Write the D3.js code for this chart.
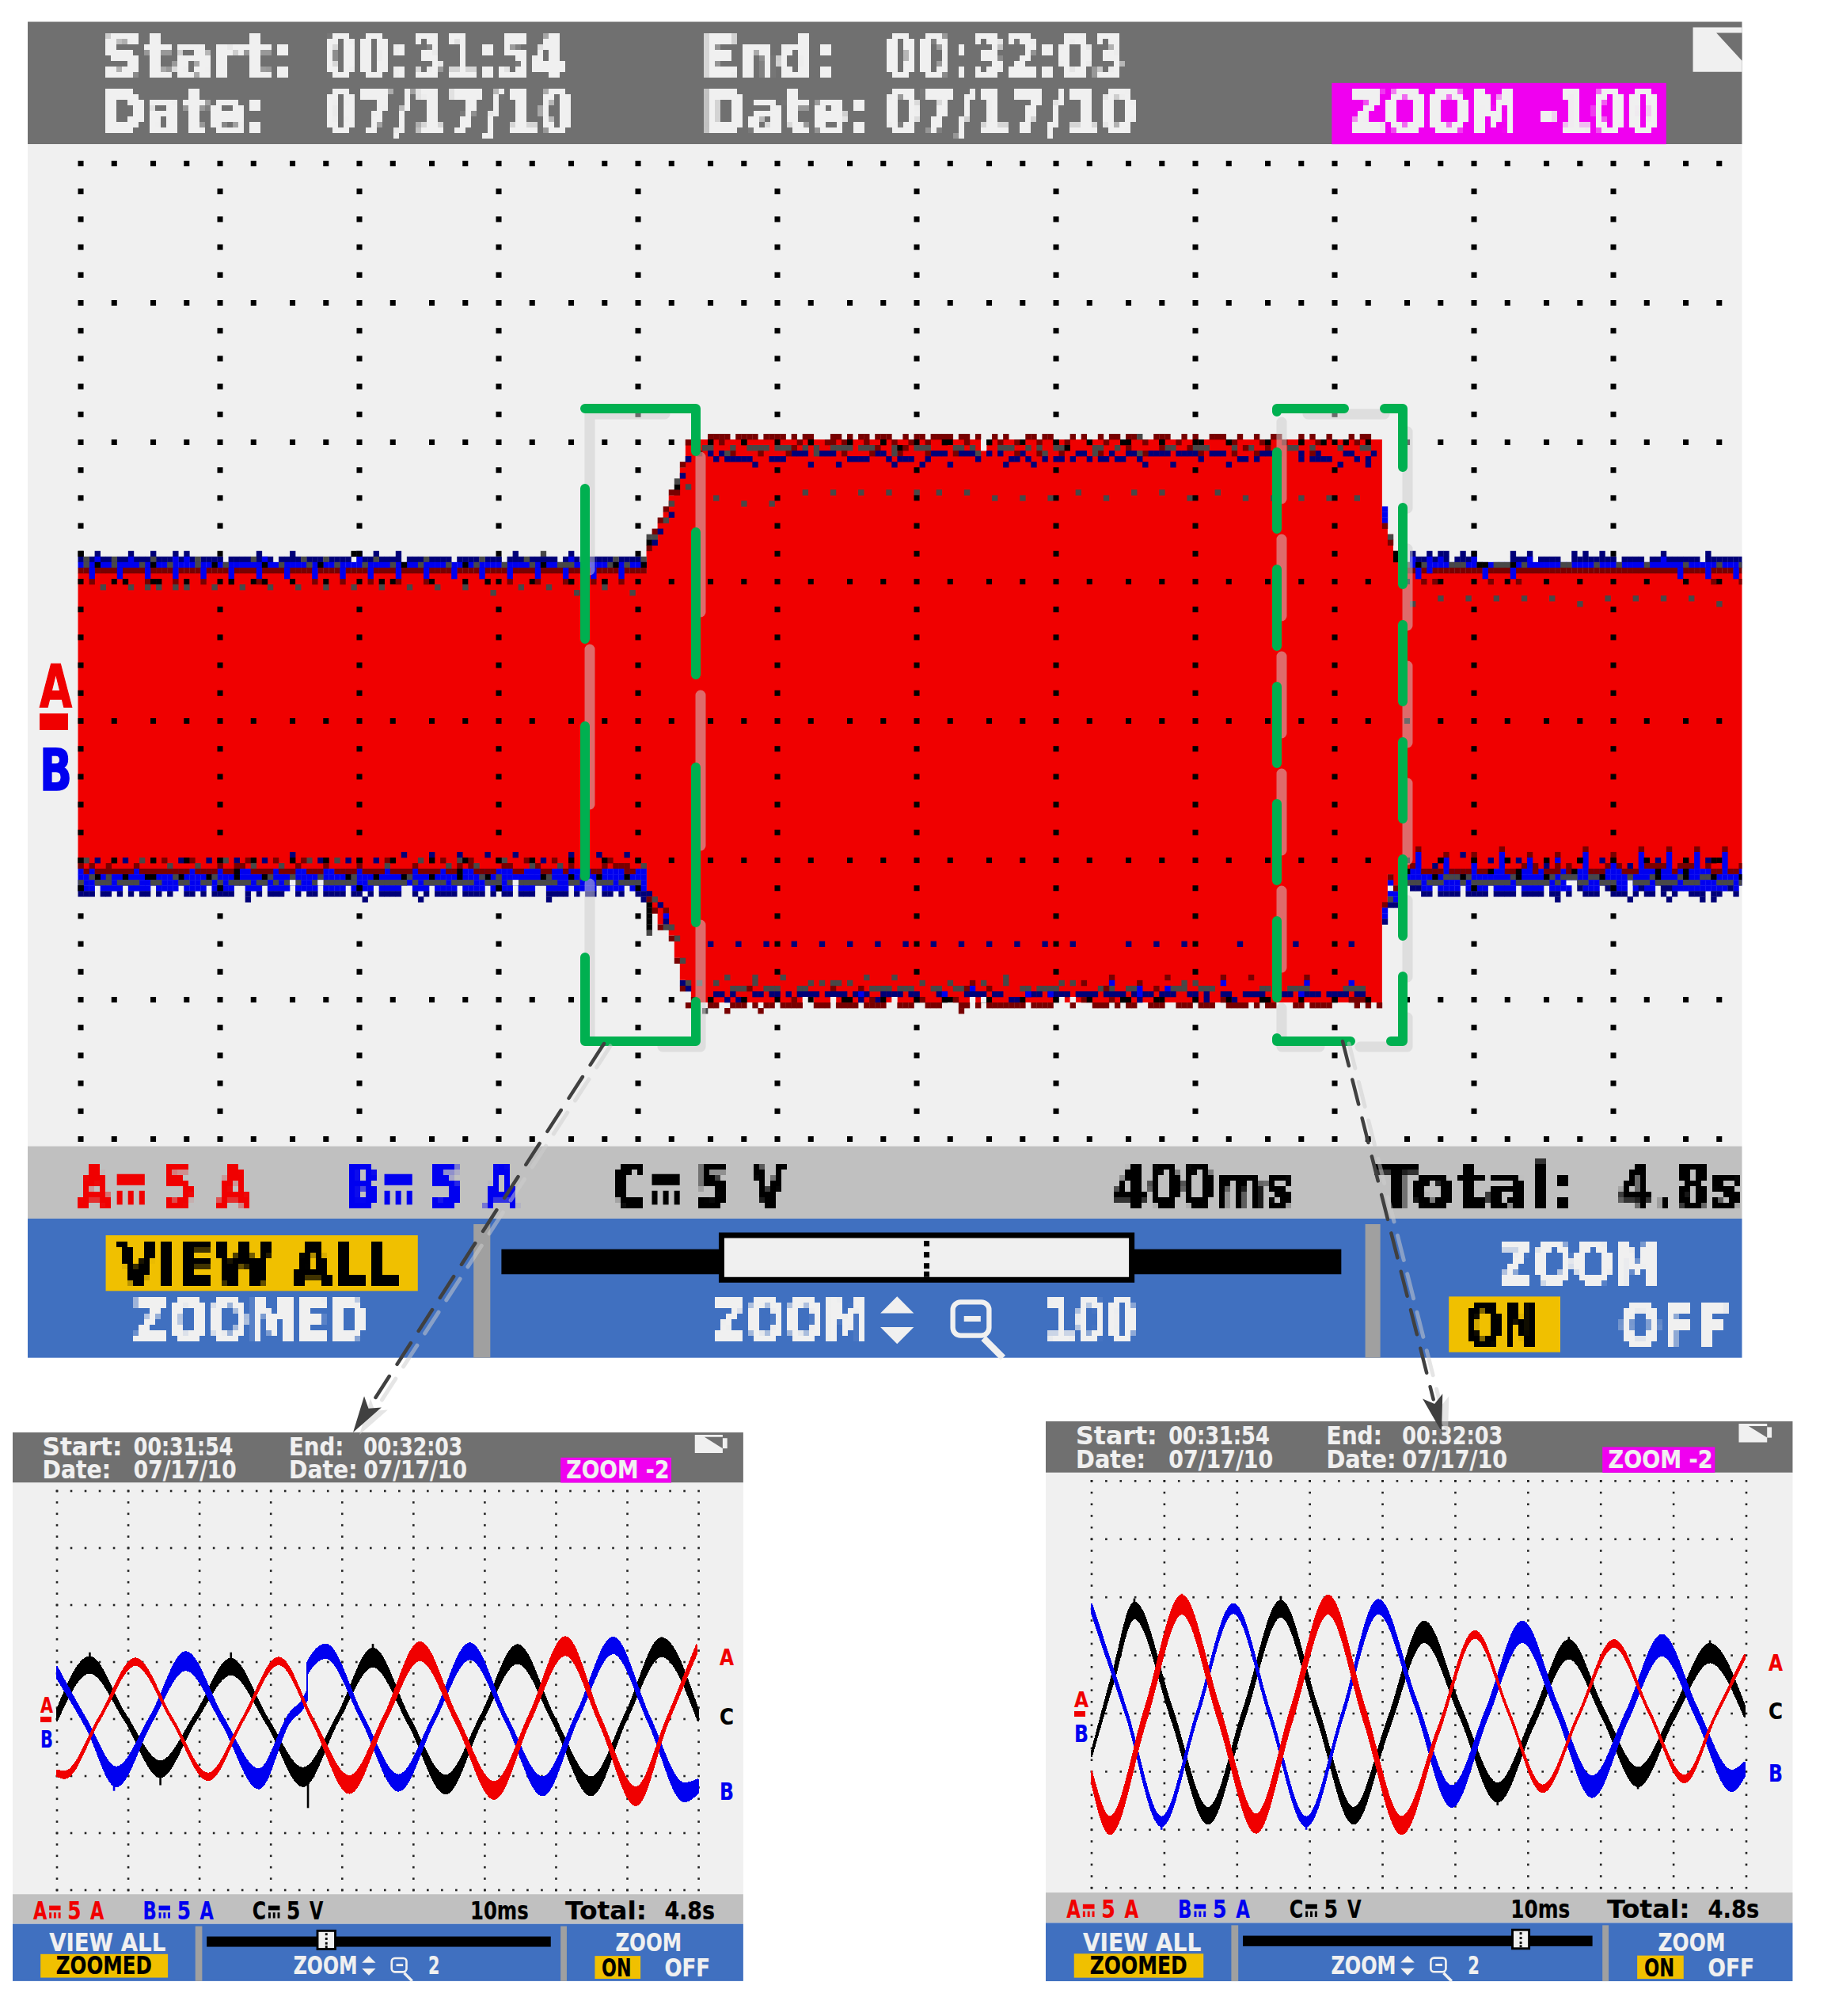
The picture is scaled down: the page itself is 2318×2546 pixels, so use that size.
<!DOCTYPE html>
<html>
<head>
<meta charset="utf-8">
<title>Scope record</title>
<script src="https://cdn.jsdelivr.net/npm/d3@7"></script>
<style>
  html, body { margin: 0; padding: 0; background: #fff; }
  svg { display: block; }
  text { font-family: "DejaVu Sans", sans-serif; font-weight: bold; }
</style>
</head>
<body>
<div id="chart"></div>
<script>
var WIDTH = 2318, HEIGHT = 2546;

// main trace, one LCD column = 16 ms, one LCD row = 0.2 A
var envCols   = [0,  102, 103, 104, 105, 106, 107, 108, 109, 110, 234, 235, 236, 237, 238, 300];
var envTop    = [26, 30,  31,  35,  37,  40,  41,  45,  49,  50,  35,  33,  30,  28,  26,  26];
var envBottom = [-26, -31, -34, -36, -36, -38, -42, -46, -48, -50, -33, -27, -29, -26, -26, -26];

// trace edges, [row, colour key, column runs]
var lowLeftTop = [
  [30, 'n', "3 9 13 17 19 32 38 50 53 57 78 88"], [30, 'k', "0 49"], [30, 'g', "83"],
  [29, 'n', "0 2-5 7-8 10-12 14-16 18-20 22-25 27-30 32-34 36-39 41-43 45-48 50-52 54-57 59-61 63-66 68-71 73-75 77-79 81-85 87 89 91-95 97-100"],
  [29, 'g', "1 6 13 21 31 40 44 53 62 72 80 96 101"], [29, 'b', "3 9 17 19 33 50 88"],
  [28, 'b', "0-101"], [28, 'g', "1 6 11 16 21 26 36 41 46 51 56 61 66 71 76 81 86-88 95 98"], [28, 'k', "3 13 24 33 43 58 69 83 96 101"],
  [27, 'm', "0-101"], [27, 'b', "2 7 12 17 22 27 32 37 42 47 52 57 62 67 72 77 82 87 92 97"],
  [26, 'b', "2 7 12 17 22 27 32 37 42 47 52 57 62 67 72 77 82 87 92 97"],
  [25, 'm', "2 12 17 22 32 42 47 52 57 62 77 82 87 92 97"], [25, 'k', "8 14 27 33 54 73 88 94"],
  [24, 'g', "4 9 12 14 17 19 24 29 34 39 44 49 54 59 64 69 79 84 94"], [23, 'g', "74 89 99"]
];
var lowLeftBottom = [
  [-24, 'n', "38 58 63 68 73 78 88 93 98"],
  [-25, 'k', "0 6 13 19 25 31 38 44 50 56 63 69 75 81 88 94 100"], [-25, 'g', "1 11 26 41 46 61 68 76"],
  [-25, 'n', "3 8 18 23 28 33 43 48 53 83"], [-25, 'm', "15 20 30 35 40 55 65 70 80 85 95"],
  [-26, 'm', "0 2 5 10 25 28-29 39 44 50 60 68 70 76-77 82 88 94 96-98"], [-26, 'g', "16 21 31 36 55 66 71 81 86 101"],
  [-27, 'b', "0-101"], [-27, 'm', "1 3-9 11-15 16-19 21-24 26-27 31-34 36-38 41-43 46-49 51-54 56-59 61-64 66-67 71-74 78-79 83-84 87 92-93 98-99"], [-27, 'k', "28 68"],
  [-28, 'b', "0-101"], [-28, 'k', "3 8 12-13 18 23 28 33 48 53 58 63 68 73 83 88 93 98"], [-28, 'g', "2 5 17 24 34 38 43 49 59 72 75 84 90"],
  [-29, 'b', "0-101"], [-29, 'g', "0 3-5 7-10 13-14 18-19 22-23 25 27-30 32-33 35 37 39 42 44-46 47-49 52-56 57-58 60 62-65 67-70 73-75 77 79-81 82-84 85 88-89 93-95 97-100"], [-29, 'w', "38 43 78"],
  [-30, 'b', "0-2 4-7 9-12 14-17 19-22 24-27 30-32 34-37 39-42 44-47 49-52 54-57 60-62 64-67 69-72 74-77 79-81 84-87 89-92 94-97 99-101"], [-30, 'k', "0 25 50 75"],
  [-31, 'n', "0-2 4-5 7 9 11-12 14 16 19-20 22 24-27 30 32 34-36 39 41-42 44-47 49-50 52 54-57 60 62 64-67 69-72 74 76-77 79-81 84-87 89 91-92 94-95 97 100-101"],
  [-32, 'n', "30 51 61 84 101"]
];
var ramps = [
  [33, 'g', "102-103"], [32, 'k', "102"], [32, 'n', "103"], [31, 'm', "102"], [34, 'm', "103"], [34, 'n', "104"],
  [36, 'm', "104"], [36, 'g', "105"], [37, 'n', "106"], [38, 'm', "105"], [39, 'g', "106"], [41, 'm', "106-107"],
  [42, 'k', "107"], [43, 'g', "107"], [44, 'n', "108"], [46, 'm', "108"], [47, 'n', "109"], [50, 'm', "109"],
  [-31, 'n', "102"], [-32, 'm', "102"], [-32, 'g', "103"], [-33, 'k', "102"], [-34, 'k', "102"], [-35, 'k', "102"], [-36, 'k', "102"], [-37, 'k', "102"], [-38, 'g', "102"],
  [-33, 'n', "104"], [-34, 'm', "103 105"], [-35, 'b', "105"], [-36, 'n', "105"], [-37, 'm', "104"], [-37, 'g', "105-106"],
  [-39, 'm', "106"], [-39, 'g', "107"], [-43, 'm', "107"], [-43, 'g', "108"], [-47, 'n', "108"],
  [38, 'b', "234"], [37, 'b', "234"], [36, 'b', "234"], [35, 'm', "234"], [33, 'g', "235"], [32, 'm', "235"], [30, 'k', "236"], [29, 'k', "236"],
  [-33, 'm', "234"], [-34, 'b', "234"], [-35, 'b', "234"], [-36, 'n', "234"], [-31, 'b', "235-236"], [-32, 'g', "235"], [-32, 'b', "236"], [-33, 'n', "235-236"], [-30, 'm', "236"], [-29, 'b', "235"], [-28, 'm', "235"]
];
var highTop = [
  [51, 'm', "113-116 118-121 123-126 128 130-131 135-136 138 140-141 143-145 148 150-151 153-156 158-159 161 164 166 170-171 173-174 178 180 183 185-186 188-189 193-195 198 200 203-205 208 211 214-215 219 221 224 228 230-231"], [51, 'g', "190"],
  [50, 'm', "109 115 129 134-135 137 141 146 149 152 159 165 168 172 177 181 184 191 197 207 212 216 222 229"], [50, 'k', "113 119 131 138 144 155 163 175 187 194 201 206 213 219 223 227"],
  [50, 'w', "162"], [49, 'w', "162"],
  [49, 'g', "112-113 117 120-123 125-127 130 132 135-138 140-142 146 150-152 157-158 160 165-167 170 172 175-176 182-183 186 195-196 200-202 207 210 217-218 221 226 230-231"], [49, 'k', "147 177"], [49, 'm', "128 143 148 188 194 199 209 213"],
  [48, 'n', "113 115 128-130 133-135 143-144 153-155 158-160 163 165 169 179-180 185 188-189 192-195 197-200 203-205 212-214 219 222 227-228 232"], [48, 'm', "111 117 122 127 137 142 147 152 157 168 172 176 183 191 201 207 211 215 221"], [48, 'g', "116 132 146 161 173 182 190"],
  [47, 'n', "109 114 116-120 124-126 138-141 145 147-149 152 161 167-168 170 173 175-176 178 181 183-184 186-187 190 201 208-209 211 219 221-224 229 231"],
  [46, 'n', "121 131 136 146 151 156 166 171 191 196 206 226 231"],
  [41, 'g', "130 135 140 145 150 154 159 179 189 194 204"], [42, 'g', "109"], [40, 'g', "114 164 169 174 184 199 209 214 219 224 229"], [39, 'g', "119 124"]
];
var highBottom = [
  [-40, 'n', "113 118 123 128 133 138 143 148 153 158 163 168 173 178 188 193 198 208 218 228"],
  [-46, 'g', "116 121 126 141 146 166"], [-46, 'm', "185 195 205 210 220"],
  [-47, 'g', "109 111 114 121 131 133 135-136 138 151 156 162 166 176 178 198 200"], [-47, 'm', "160 180 190"], [-47, 'b', "185 205 220 228"],
  [-48, 'g', "117-119 123-125 129-130 142-145 147-149 153-154 157-158 169-170 172-175 183-185 188-189 196-198 201-203 212-213 217-220 227-230"], [-48, 'm', "108 120 135 140 159 163 184 193"], [-48, 'b', "160 190 195"], [-48, 'n', "109"],
  [-49, 'n', "114-115 117 121-122 124-125 127 129-132 134-137 139-141 144-147 149-150 154-155 159-162 164-165 170-172 174-177 179-182 184-187 189-192 194-196 199-200 202 205-206 209-212 216-217 219-222 224-227 229-230"], [-49, 'b', "140 155 170 174 190 219"],
  [-50, 'k', "113 119 137 150 155 162 175 187 193 200 212 225 231"], [-50, 'n', "116 118 140 143 167-168 190 202 207"], [-50, 'm', "110 128 142 151 157 180-181 185 205 213 228-230"],
  [-50, 'w', "130-131 135 146 160 162 176 178"],
  [-51, 'm', "109 113-114 117-119 121 123-124 126-129 132-134 136-139 141-144 147-149 152-154 158-159 161 163-165 166-169 171-173 174 178 182-184 186 188-189 192-194 197-199 201-203 206-209 211 213-214 218-219 221-224 229 231 233"],
  [-52, 'm', "116 122 158"], [-52, 'g', "112"]
];
var lowRightTop = [
  [30, 'n', "239 242 244-245 248 250 257 260 268 270 273 284 292"],
  [29, 'n', "239-245 247-250 257-260 262-265 268-271 272-275 277-280 282-286 287-290 292-295 296-299"], [29, 'b', "239 242 244 250 260 284"],
  [28, 'b', "237-299"], [28, 'g', "238 241 246-248 251 254-256 259 266-267 272 276 281 288 294 298"], [28, 'k', "240 251-252 257"],
  [27, 'm', "237-299"], [27, 'b', "240 242 252 257 287 292 297"],
  [26, 'b', "240 252 257 287 292 297"], [25, 'm', "241 243 253 258 288 293 298"],
  [22, 'g', "244 249 254 259 264 274 279 284 289"], [21, 'g', "239 269 294"]
];
var lowRightBottom = [
  [-23, 'm', "240 255 270 280 285 290 295"], [-24, 'm', "245 250 260 265 275"], [-24, 'n', "248"], [-24, 'b', "240 255 270 280 285 290 295"],
  [-25, 'b', "240 245 255 260 265 270 280 285 290 295"], [-25, 'k', "244 250 256 263 269 275 281 288 293"], [-25, 'n', "253 258 273 283 292"],
  [-26, 'm', "239 259 261 265 267 274 276 281-284 287-289 292 298"], [-26, 'b', "240 245 250 255 260 270 275 280 285 290 295"], [-26, 'n', "243 263 278"],
  [-27, 'b', "238-299"], [-27, 'm', "241-244 246-249 251-252 256-257 261 263-265 267 271-273 277-279 286 293-294 296-297"], [-27, 'k', "238 253 258 268 283 288"],
  [-28, 'b', "238-299"], [-28, 'g', "245-247 249 257 264 266-268 271-272 278 282 287 291-292"], [-28, 'k', "243 248 258 263 273 283 288 293 298"],
  [-29, 'b', "238-266 269-277 279-299"], [-29, 'g', "238-240 242-244 248 250-256 258-263 265 269-270 273-275 279-281 283-286 288-290 294-296 298-299"],
  [-30, 'b', "241-242 244-247 249 251-252 254-257 259-262 264-267 270-272 276-277 279 281-282 286-288 289-292 293-295 297"], [-30, 'n', "239-240 269 274 280 284-285 296"], [-30, 'k', "250 275"],
  [-31, 'n', "241-242 244-247 249-252 254-257 259-262 264-265 267 270-272 275-277 279 281-282 284 286 289-291 293-294 297"],
  [-32, 'n', "265 278 285 291 293"]
];
var hueKey = { r: '#f00000', b: '#0000f0', n: '#000078', m: '#780000', g: '#484848', k: '#000000', w: '#f0f0f0' };

// zoomed captures, knots read at peaks and crossings: t (ms), a (A), h (half noise width, A)
var leftC = { t: [0, 4.6, 9.5, 14.5, 19.4, 24.4, 29.5, 34.5, 39.4, 44.3, 49.4, 54.5, 59.5, 64.6, 69.7, 74.9, 79.8, 84.8, 89.9],
              a: [0.35, 4.76, 0.2, -4.4, 0.1, 4.6, -0.2, -5.1, 0.1, 5.4, -0.2, -5.75, 0, 5.7, -0.1, -5.9, 0.2, 6.3, 0.35],
              h: [0.5, 0.7, 0.3, 0.7, 0.3, 0.7, 0.3, 0.8, 0.3, 0.8, 0.35, 0.8, 0.35, 0.8, 0.35, 0.8, 0.35, 0.8, 0.5] };
var leftA = { t: [0, 1.06, 6, 11, 16.1, 21.2, 26.1, 31.1, 36, 41, 46, 50.9, 56.1, 61.3, 66.3, 71.3, 76.2, 81.2, 85.5, 89.7],
              a: [-4.74, -4.9, 0.1, 5.03, 0, -5.07, 0, 5.1, -0.3, -5.75, 0.1, 5.95, -0.15, -6.26, 0.1, 6.4, -0.2, -6.77, -0.3, 6.1],
              h: [0.25, 0.3, 0.15, 0.3, 0.15, 0.3, 0.15, 0.3, 0.2, 0.75, 0.35, 0.8, 0.35, 0.75, 0.35, 0.8, 0.35, 0.8, 0.3, 0.4] };
var leftB = { t: [0, 4.2, 8.3, 13.2, 18.06, 23.2, 28.3, 32.5, 35.05, 35.06, 37.7, 42.8, 47.9, 52.9, 57.9, 63, 68.1, 73, 78, 83, 88, 89.9],
              a: [4.08, -0.5, -5.07, 0, 5.1, -0.1, -5.25, 0, 2.05, 4.4, 5.95, 0.1, -5.6, 0.1, 5.95, 0, -5.9, 0.3, 6.46, 0, -6.43, -5.9],
              h: [0.5, 0.35, 0.85, 0.35, 0.8, 0.35, 0.85, 0.4, 0.4, 0.5, 0.6, 0.3, 0.7, 0.3, 0.7, 0.3, 0.8, 0.35, 0.7, 0.35, 0.8, 0.6] };
var rightC = { t: [0, 2.9, 5.87, 11, 16, 21, 26, 31, 36, 40.8, 45.7, 50.7, 55.8, 60.7, 65.6, 70.3, 75.1, 80, 85, 89.75],
               a: [-3.47, 3, 8.87, 0, -8.8, 0.1, 9.03, 0.1, -8.8, -0.9, 7.03, 0.1, -6.8, -0.6, 5.53, 0, -5.47, -0.1, 5.2, 0.2],
               h: [0.2, 0.5, 0.7, 0.55, 0.7, 0.55, 0.7, 0.55, 0.7, 0.55, 0.9, 0.5, 0.8, 0.5, 0.8, 0.45, 0.8, 0.45, 0.8, 0.5] };
var rightA = { t: [0, 2.5, 7.4, 12.4, 17.5, 22.6, 27.5, 32.5, 37.5, 42.6, 47.7, 52.7, 57.3, 62, 66.9, 71.8, 76.6, 81.5, 85.6, 89.75],
               a: [-5.47, -9.63, -0.1, 9.37, -0.05, -9.47, -0.05, 9.37, -0.1, -9.63, -1.4, 6.8, 0.15, -6.47, -0.2, 6.03, 0.2, -5.63, -0.4, 4.87],
               h: [0.5, 0.75, 0.7, 0.8, 0.7, 0.8, 0.7, 0.8, 0.7, 0.75, 0.3, 0.3, 0.15, 0.3, 0.15, 0.3, 0.15, 0.3, 0.15, 0.2] };
var rightB = { t: [0, 4.8, 9.6, 14.5, 19.5, 24.5, 29.5, 34.5, 39.4, 44.5, 49.5, 54.3, 59.2, 64, 68.8, 73.6, 78.4, 83.2, 88, 89.75],
               a: [9.03, 0, -9.3, -0.1, 9.03, -0.1, -9.3, -0.05, 9.2, 1, -7.13, -0.05, 7.03, 0.35, -6.3, -0.2, 5.87, 0, -5.8, -4.8],
               h: [0.4, 0.3, 0.4, 0.3, 0.4, 0.3, 0.4, 0.3, 0.6, 0.4, 0.9, 0.5, 0.9, 0.5, 0.9, 0.5, 0.9, 0.5, 0.9, 0.6] };
// noise spikes, [t, a]
var leftSpikes = { c: [[35.2, -7.8], [4.6, 5.85], [14.5, -5.8], [24.4, 5.85], [44.3, 6.6], [64.6, 6.6], [84.8, 7.2]],
                   b: [[8, -6.3], [18, 5.85]], a: [[81.2, -7.6]] };
var rightSpikes = { c: [[5.87, 9.9], [26, 10.1], [55.8, -7.9], [75.1, -6.5], [65.6, 6.6], [85, 6.3]],
                    b: [[9.6, -10], [29.5, -10], [39.4, 9.7], [59.2, 7.7], [49.5, -7.9], [68.8, -7.1], [88, -6.7]],
                    a: [[2.5, -10.3], [12.4, 10.3], [42.6, -10.3], [32.5, 10.1]] };

var svg = d3.select("#chart").append("svg")
    .attr("width", WIDTH)
    .attr("height", HEIGHT)
    .attr("viewBox", "0 0 " + WIDTH + " " + HEIGHT);

var defs = svg.append("defs");
// blocks real text into LCD cells on the big screen
var pix = defs.append("filter").attr("id", "lcd").attr("filterUnits", "userSpaceOnUse")
    .attr("x", 0).attr("y", 0).attr("width", WIDTH).attr("height", 1800);
pix.append("feFlood").attr("x", 3).attr("y", 3).attr("width", 1).attr("height", 1).attr("flood-color", "#000");
pix.append("feComposite").attr("width", 7).attr("height", 7);
pix.append("feTile").attr("result", "grid");
pix.append("feComposite").attr("in", "SourceGraphic").attr("in2", "grid").attr("operator", "in");
pix.append("feMorphology").attr("operator", "dilate").attr("radius", 3);

function runList(s) {
  var out = [];
  s.split(" ").forEach(function(p) {
    var r = p.split("-").map(Number);
    for (var c = r[0]; c <= (r.length > 1 ? r[1] : r[0]); c++) out.push(c);
  });
  return out;
}

function panel(cfg) {
  var g = svg.append("g");
  var k = cfg.k, ky = cfg.ky;
  function X(c) { return cfg.x + c * k; }
  function Y(r) { return cfg.y + r * ky; }
  function block(parent, c0, r0, c1, r1, fill) {
    return parent.append("rect").attr("x", X(c0)).attr("y", Y(r0))
      .attr("width", (c1 - c0) * k).attr("height", (r1 - r0) * ky).attr("fill", fill);
  }
  block(g, 0, 0, cfg.cols, 22, "#707070");
  block(g, 0, 22, cfg.cols, 202, "#f0f0f0");
  block(g, 0, 202, cfg.cols, 215, "#c0c0c0");
  block(g, 0, 215, cfg.cols, 240, "#4070c0");
  block(g, 80, 216, 83, 240, "#a0a0a0");
  block(g, 240, 216, 242.7, 240, "#a0a0a0");
  block(g, cfg.zoomBox[0], 11, cfg.zoomBox[1], 22, "#f000f0");
  block(g, cfg.allBox ? 14 : 12.2, cfg.allBox ? 218 : 228.2, cfg.allBox ? 70 : 68, cfg.allBox ? 228 : 238.5, "#f0c000");
  block(g, 255, 229, 275, 239, "#f0c000");

  // slider
  block(g, 85, 220.5, 235.7, 225, "#000");
  block(g, cfg.handle[0], 217.5, cfg.handle[1], 226.5, "#000");
  block(g, cfg.handle[0] + 1, 218.5, cfg.handle[1] - 1, 225.5, "#f0f0f0");
  [219, 221, 223, 224.5].forEach(function(r) {
    var m = (cfg.handle[0] + cfg.handle[1]) / 2;
    block(g, m - 0.5, r, m + 0.5, r + 1, "#000");
  });

  // battery
  g.append("path").attr("fill", "#f0f0f0")
    .attr("d", "M" + X(298.8) + "," + Y(1) + "H" + X(Math.min(cfg.cols, 311)) + "V" + Y(9) + "H" + X(298.8) + "Z");
  g.append("path").attr("fill", "#707070")
    .attr("d", "M" + X(303) + "," + Y(2) + "L" + X(Math.min(cfg.cols, 311)) + "," + Y(2) + "L" + X(Math.min(cfg.cols, 311)) + "," + Y(7) + "Z");
  if (cfg.cols > 310) block(g, 311, 2.5, 313, 7, "#f0f0f0");

  // texts: [string, first col, last col, top row, bottom row, colour]
  var white = "#f0f0f0", black = "#000", red = "#f00000", blue = "#0000f0";
  var labels = [
    ["Start:", 13, 48, 2, 10, white], ["00:31:54", 53, 96.5, 2, 10, white],
    ["End:", 121, 145, 2, 10, white], ["00:32:03", 153.7, 197, 2, 10, white],
    ["Date:", 13, 43, 12, 20, white], ["07/17/10", 53, 98, 12, 20, white],
    ["Date:", 121, 151, 12, 20, white], ["07/17/10", 153.7, 199, 12, 20, white],
    [cfg.zoomText, cfg.zoomTextX[0], cfg.zoomTextX[1], 12, 20, white],
    ["A", 9, 15, 205, 213, red], ["5", 24, 30, 205, 213, red], ["A", 34, 40, 205, 213, red],
    ["B", 57, 63, 205, 213, blue], ["5", 72, 78, 205, 213, blue], ["A", 82, 88, 205, 213, blue],
    ["C", 105, 111, 205, 213, black], ["5", 120, 126, 205, 213, black], ["V", 130, 136, 205, 213, black],
    [cfg.timebase, cfg.timebaseX[0], cfg.timebaseX[1], 205, 213, black],
    ["Total:", 242, 277.7, 205, 213, black], ["4.8s", 285.5, 307.6, 205, 213, black],
    ["VIEW ALL", 16, 67, 219, 227, cfg.allBox ? black : white],
    ["ZOOMED", 19, 61, 229, 237, cfg.allBox ? white : black],
    ["ZOOM", 123, 151, 229, 237, white], [cfg.factor, cfg.factorX[0], cfg.factorX[1], 229, 237, white],
    ["ZOOM", 264, 293, 219, 227, white], ["ON", 258, 271, 230, 238, black], ["OFF", 285.5, 305.5, 230, 238, white]
  ];
  var tg = g.append("g");
  if (cfg.pixel) tg.attr("filter", "url(#lcd)");
  tg.selectAll("text").data(labels).enter().append("text")
    .attr("x", function(d) { return X(d[1]); })
    .attr("y", function(d) { return Y(d[4]); })
    .attr("font-size", function(d) { return (d[4] - d[3]) * ky / 0.729; })
    .attr("textLength", function(d) { return (d[2] - d[1]) * k; })
    .attr("lengthAdjust", "spacingAndGlyphs")
    .attr("fill", function(d) { return d[5]; })
    .attr("stroke", function(d) { return d[5]; })
    .attr("stroke-width", cfg.pixel ? 1.5 : 0.2)
    .text(function(d) { return d[0]; });

  // DC marks next to the channel letters
  [[16, red], [64, blue], [112, black]].forEach(function(s) {
    block(g, s[0], 207, s[0] + 5, 209, s[1]);
    [0, 2, 4].forEach(function(o) { block(g, s[0] + o, 210, s[0] + o + 1, 212.5, s[1]); });
  });

  // up/down arrows and magnifier
  g.append("path").attr("fill", white).attr("d",
    "M" + X(156) + "," + Y(229) + "L" + X(159) + "," + Y(232) + "H" + X(153) + "Z" +
    "M" + X(156) + "," + Y(237.5) + "L" + X(159) + "," + Y(234.5) + "H" + X(153) + "Z");
  g.append("rect").attr("x", X(166)).attr("y", Y(230)).attr("rx", k * 1.4)
    .attr("width", 6.5 * k).attr("height", 6 * ky)
    .attr("fill", "none").attr("stroke", white).attr("stroke-width", 0.9 * k);
  block(g, 168, 232.5, 171, 233.5, white);
  g.append("path").attr("fill", "none").attr("stroke", white).attr("stroke-width", 1.2 * k)
    .attr("d", "M" + X(171.5) + "," + Y(236.5) + "L" + X(175) + "," + Y(240));

  return { g: g, X: X, Y: Y, block: block };
}

function sideTags(g, list, heavy) {
  var tg = g.append("g");
  list.forEach(function(d) {
    tg.append("text").attr("x", d[1]).attr("y", d[4])
      .attr("font-size", (d[4] - d[3]) / 0.729)
      .attr("textLength", d[2] - d[1]).attr("lengthAdjust", "spacingAndGlyphs")
      .attr("fill", d[5]).attr("stroke", d[5]).attr("stroke-width", heavy ? 1.5 : 0.2).text(d[0]);
  });
}

// ---- big screen ----
panel({ x: 35, y: 27.5, k: 7.04, ky: 7.03, cols: 307.6, pixel: true,
  zoomBox: [234, 294], zoomText: "ZOOM -100", zoomTextX: [237, 293], allBox: true,
  handle: [124, 198.6], timebase: "400ms", timebaseX: [195, 227], factor: "100", factorX: [182.5, 199] });

var colWidth = 16;
var xMain = d3.scaleLinear().domain([0, 4800]).range([98.5, 98.5 + 300 * 7.04]);
var yMain = d3.scaleLinear().domain([0, 5]).range([910.5, 734.5]);
var cellW = xMain(colWidth) - xMain(0), cellH = yMain(0) - yMain(0.2);

defs.append("clipPath").attr("id", "mainclip").append("rect")
    .attr("x", 0).attr("y", 0).attr("width", 2200.5).attr("height", HEIGHT);
var mainG = svg.append("g").attr("clip-path", "url(#mainclip)");

var envelope = envCols.map(function(c, i) { return { c: c, top: envTop[i], bottom: envBottom[i] }; });
mainG.append("path").datum(envelope)
    .attr("fill", hueKey.r)
    .attr("d", d3.area().curve(d3.curveStepAfter)
      .x(function(d) { return xMain(d.c * colWidth); })
      .y0(function(d) { return yMain((d.bottom - 0.5) * 0.2); })
      .y1(function(d) { return yMain((d.top + 0.5) * 0.2); }));

var cells = [];
[lowLeftTop, lowLeftBottom, ramps, highTop, highBottom, lowRightTop, lowRightBottom].forEach(function(band) {
  band.forEach(function(row) {
    runList(row[2]).forEach(function(c) { cells.push({ c: c, q: row[0], hue: row[1] }); });
  });
});
mainG.selectAll("rect.cell").data(cells).enter().append("rect")
    .attr("class", "cell")
    .attr("x", function(d) { return xMain(d.c * colWidth); })
    .attr("y", function(d) { return yMain(d.q * 0.2) - cellH / 2; })
    .attr("width", cellW + 0.3).attr("height", cellH + 0.3)
    .attr("fill", function(d) { return hueKey[d.hue]; });

// grid dots
var divMs = d3.range(0, 4800, 400);
var minorMs = [0, 96, 208, 304];
var rowAmps = d3.range(-15, 20.01, 5);
var stepAmps = d3.range(-15, 20.01, 1);
var mainDots = [];
divMs.forEach(function(t) {
  stepAmps.forEach(function(a) { mainDots.push([t, a]); });
  rowAmps.forEach(function(a) {
    minorMs.slice(1).forEach(function(o) { mainDots.push([t + o, a]); });
  });
});
mainG.selectAll("rect.dot").data(mainDots).enter().append("rect")
    .attr("class", "dot")
    .attr("x", function(d) { return xMain(d[0]); })
    .attr("y", function(d) { return yMain(d[1]) - cellH / 2; })
    .attr("width", cellW).attr("height", cellH).attr("fill", "#000");

sideTags(svg, [["A", 50, 91, 839, 893, "#f00000"], ["B", 50, 91, 945, 998, "#0000f0"]], true);
svg.append("rect").attr("x", 50).attr("y", 901).attr("width", 36).attr("height", 21).attr("fill", "#f00000");

// ---- small captures ----
function capture(cfg, xr, yZero, pxPerAmp, traces, spikes, tags) {
  var p = panel(cfg);
  var xs = d3.scaleLinear().domain([0, 90]).range(xr);
  var ys = d3.scaleLinear().domain([0, 5]).range([yZero, yZero - pxPerAmp * 5]);
  var dots = [];
  d3.range(0, 90.01, 10).forEach(function(t) {
    d3.range(-15, 20.01, 1).forEach(function(a) { dots.push([t, a]); });
  });
  d3.range(0, 90, 2).forEach(function(t) {
    d3.range(-15, 20.01, 5).forEach(function(a) { dots.push([t, a]); });
  });
  p.g.selectAll("rect.gd").data(dots).enter().append("rect")
    .attr("class", "gd")
    .attr("x", function(d) { return xs(d[0]) - 1.3; })
    .attr("y", function(d) { return ys(d[1]) - 1.3; })
    .attr("width", 2.6).attr("height", 2.6).attr("fill", "#222");

  traces.forEach(function(tr) {
    var pts = tr.data.t.map(function(t, i) { return { t: t, a: tr.data.a[i], h: tr.data.h[i] }; });
    p.g.append("path").datum(pts)
      .attr("fill", tr.color).attr("stroke", tr.color).attr("stroke-width", 2).attr("stroke-linejoin", "round")
      .attr("shape-rendering", "crispEdges")
      .attr("d", d3.area().curve(d3.curveMonotoneX)
        .x(function(d) { return xs(d.t); })
        .y0(function(d) { return ys(d.a - d.h); })
        .y1(function(d) { return ys(d.a + d.h); }));
    var base = d3.scaleLinear().domain(tr.data.t).range(tr.data.a);
    p.g.selectAll("line.s" + tr.key).data(spikes[tr.key] || []).enter().append("line")
      .attr("class", "s" + tr.key)
      .attr("x1", function(d) { return xs(d[0]); }).attr("x2", function(d) { return xs(d[0]); })
      .attr("y1", function(d) { return ys(base(d[0])); }).attr("y2", function(d) { return ys(d[1]); })
      .attr("stroke", tr.color).attr("stroke-width", 2.6);
  });
  sideTags(p.g, tags);
  return p;
}

capture({ x: 16, y: 1809, k: 2.884, ky: 2.887, cols: 320,
    zoomBox: [240, 288.5], zoomText: "ZOOM -2", zoomTextX: [242.5, 287.6], allBox: false,
    handle: [133, 141.8], timebase: "10ms", timebaseX: [200.4, 226], factor: "2", factorX: [182, 187] },
  [72, 882.6], 2171, 14.4,
  [{ key: "c", color: "#000", data: leftC }, { key: "b", color: "#0000f0", data: leftB }, { key: "a", color: "#f00000", data: leftA }],
  leftSpikes,
  [["A", 51, 67, 2144, 2163, "#f00000"], ["B", 51, 67, 2185, 2207, "#0000f0"],
   ["A", 909, 927, 2082, 2103, "#f00000"], ["C", 909, 927, 2157, 2178, "#000"], ["B", 909, 927, 2251, 2273, "#0000f0"]]
).g.append("rect").attr("x", 51).attr("y", 2168).attr("width", 14).attr("height", 7).attr("fill", "#f00000");

capture({ x: 1321, y: 1795, k: 2.93, ky: 2.946, cols: 322,
    zoomBox: [240, 288.5], zoomText: "ZOOM -2", zoomTextX: [242.5, 287.6], allBox: false,
    handle: [200.7, 208.9], timebase: "10ms", timebaseX: [200.4, 226], factor: "2", factorX: [182, 187] },
  [1379, 2206], 2164, 14.68,
  [{ key: "c", color: "#000", data: rightC }, { key: "b", color: "#0000f0", data: rightB }, { key: "a", color: "#f00000", data: rightA }],
  rightSpikes,
  [["A", 1357, 1375, 2137, 2156, "#f00000"], ["B", 1357, 1375, 2178, 2200, "#0000f0"],
   ["A", 2234, 2252, 2089, 2110, "#f00000"], ["C", 2234, 2252, 2150, 2171, "#000"], ["B", 2234, 2252, 2228, 2250, "#0000f0"]]
).g.append("rect").attr("x", 1357).attr("y", 2161).attr("width", 14).attr("height", 7).attr("fill", "#f00000");

// ---- zoom window callouts ----
var boxes = [
  { x0: 739, x1: 879, y0: 516, y1: 1315, green: "194 102 180 117 196 100 296 102 190 110 190 101", greenOff: 0,
    shade: "95 99 196 105 190 100 202 100 198 100 196 100 202", shadeOff: 0 },
  { x0: 1613, x1: 1772, y0: 516, y1: 1315, green: "97 51", greenOff: 12, shade: "97 51", shadeOff: -33 }
];
var shadowPaint = "rgba(205,205,205,0.52)";
function boxPath(b, dx, dy) {
  return "M" + (b.x0 + dx) + "," + (b.y0 + dy) + "H" + (b.x1 + dx) + "V" + (b.y1 + dy) + "H" + (b.x0 + dx) + "Z";
}
boxes.forEach(function(b) {
  svg.append("path").attr("d", boxPath(b, 6, 7)).attr("fill", "none").attr("stroke", shadowPaint)
    .attr("stroke-width", 13).attr("stroke-linecap", "round").attr("stroke-linejoin", "round")
    .attr("stroke-dasharray", b.shade).attr("stroke-dashoffset", b.shadeOff);
  svg.append("path").attr("d", boxPath(b, 0, 0)).attr("fill", "none").attr("stroke", "#00b050")
    .attr("stroke-width", 12).attr("stroke-linecap", "round").attr("stroke-linejoin", "round")
    .attr("stroke-dasharray", b.green).attr("stroke-dashoffset", b.greenOff);
});

var arrows = [
  { from: [763, 1318], to: [446, 1809] },
  { from: [1696, 1315], to: [1821, 1808] }
];
arrows.forEach(function(a) {
  var dx = a.to[0] - a.from[0], dy = a.to[1] - a.from[1];
  var len = Math.sqrt(dx * dx + dy * dy), ux = dx / len, uy = dy / len;
  var stop = [a.to[0] - ux * 42, a.to[1] - uy * 42];
  function head(ox, oy) {
    return "M" + (a.to[0] + ox) + "," + (a.to[1] + oy) +
      "L" + (a.to[0] - ux * 46 - uy * 13 + ox) + "," + (a.to[1] - uy * 46 + ux * 13 + oy) +
      "L" + (a.to[0] - ux * 36 + ox) + "," + (a.to[1] - uy * 36 + oy) +
      "L" + (a.to[0] - ux * 46 + uy * 13 + ox) + "," + (a.to[1] - uy * 46 - ux * 13 + oy) + "Z";
  }
  svg.append("line").attr("x1", a.from[0] + 8).attr("y1", a.from[1] + 3).attr("x2", stop[0] + 8).attr("y2", stop[1] + 3)
    .attr("stroke", shadowPaint).attr("stroke-width", 5).attr("stroke-linecap", "round").attr("stroke-dasharray", "32 18");
  svg.append("path").attr("d", head(8, 3)).attr("fill", shadowPaint);
  svg.append("line").attr("x1", a.from[0]).attr("y1", a.from[1]).attr("x2", stop[0]).attr("y2", stop[1])
    .attr("stroke", "#404040").attr("stroke-width", 4.5).attr("stroke-linecap", "round").attr("stroke-dasharray", "32 18");
  svg.append("path").attr("d", head(0, 0)).attr("fill", "#404040");
});
</script>
</body>
</html>
